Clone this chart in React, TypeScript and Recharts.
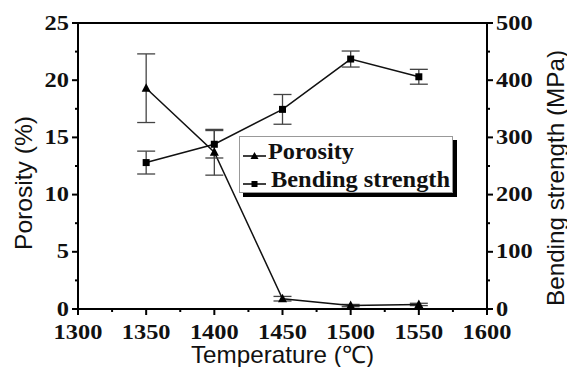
import React from 'react';
import { LineChart, Line, XAxis, YAxis, ErrorBar, ReferenceLine, Legend } from 'recharts';

const temperatures = [1350, 1400, 1450, 1500, 1550];
const porosity = [19.3, 13.7, 0.9, 0.3, 0.4];
const porosityErr = [3.0, 2.0, 0.2, 0.1, 0.1];
const bending = [256, 288, 349, 437, 406];
const bendingErr = [20, 24, 26, 14, 13];

const xTicks = [1300, 1325, 1350, 1375, 1400, 1425, 1450, 1475, 1500, 1525, 1550, 1575, 1600];
const leftTicks = [0, 2.5, 5, 7.5, 10, 12.5, 15, 17.5, 20, 22.5, 25];
const rightTicks = [0, 50, 100, 150, 200, 250, 300, 350, 400, 450, 500];

const data = temperatures.map((t, i) => ({
  t,
  porosity: porosity[i],
  porosityErr: porosityErr[i],
  bending: bending[i],
  bendingErr: bendingErr[i],
}));

const SERIF = '"Liberation Serif", "Times New Roman", Times, serif';
const SANS = 'Arial, "Liberation Sans", sans-serif';

// tick: draws its own tick line (major long, minor short) and label for majors
const makeTick = (side: 'left' | 'right' | 'bottom', step: number) => (props: any) => {
  const { x, y, payload } = props;
  const v = payload.value;
  const major = Math.abs(v / step - Math.round(v / step)) < 1e-6;
  const len = major ? 6 : 3;
  const label = String(v);
  const tl = label.length * 12.2;
  if (side === 'bottom') {
    return (
      <g>
        <line x1={x} y1={y} x2={x} y2={y + len} stroke="#000" strokeWidth={2} />
        {major && (
          <text x={x} y={y + 30} textAnchor="middle" fontFamily={SERIF} fontWeight="bold" fontSize={20}
            fill="#111" textLength={tl} lengthAdjust="spacingAndGlyphs">{label}</text>
        )}
      </g>
    );
  }
  const dir = side === 'left' ? -1 : 1;
  return (
    <g>
      <line x1={x} y1={y} x2={x + dir * len} y2={y} stroke="#000" strokeWidth={2} />
      {major && (
        <text x={side === 'left' ? x - 9 - tl : x + 9} y={y + 6.5} textAnchor="start" fontFamily={SERIF}
          fontWeight="bold" fontSize={20} fill="#111" textLength={tl} lengthAdjust="spacingAndGlyphs">{label}</text>
      )}
    </g>
  );
};

const TriangleDot = (props: any) => {
  const { cx, cy } = props;
  if (cx == null || cy == null) return null;
  return <polygon points={`${cx},${cy - 5} ${cx - 4.5},${cy + 3.5} ${cx + 4.5},${cy + 3.5}`} fill="#000" />;
};

const SquareDot = (props: any) => {
  const { cx, cy } = props;
  if (cx == null || cy == null) return null;
  return <rect x={cx - 3.5} y={cy - 3.5} width={7} height={7} fill="#000" />;
};

const LegendBox = () => (
  <div style={{
    width: 214, height: 57, boxSizing: 'border-box', background: '#fff', border: '1px solid #999',
    boxShadow: '4px 4px 0 #000',
  }}>
    <svg width={212} height={55} style={{ display: 'block' }}>
      <line x1={3} y1={19} x2={26} y2={19} stroke="#000" strokeWidth={1.5} />
      <polygon points="14.5,15 10.5,22 18.5,22" fill="#000" />
      <text x={28} y={22} fontFamily={SERIF} fontWeight="bold" fontSize={23} fill="#111"
        textLength={86} lengthAdjust="spacingAndGlyphs">Porosity</text>
      <line x1={3} y1={47} x2={26} y2={47} stroke="#000" strokeWidth={1.5} />
      <rect x={11.5} y={44} width={6} height={6} fill="#000" />
      <text x={31} y={50} fontFamily={SERIF} fontWeight="bold" fontSize={23} fill="#111"
        textLength={179} lengthAdjust="spacingAndGlyphs">Bending strength</text>
    </svg>
  </div>
);

export default function App() {
  return (
    <div style={{ position: 'absolute', left: 0, top: 0, width: 567, height: 367, background: '#fff' }}>
      <LineChart width={567} height={367} data={data} margin={{ top: 23, right: 0, bottom: 0, left: 0 }}>
        <XAxis
          dataKey="t" type="number" domain={[1300, 1600]} ticks={xTicks} interval={0}
          height={58} axisLine={{ stroke: '#000', strokeWidth: 2 }} tickLine={false}
          tickSize={0} tickMargin={0} tick={makeTick('bottom', 50)}
          label={{
            content: (p: any) => {
              const vb = p.viewBox;
              const cx = vb.x + vb.width / 2;
              return (
                <text x={cx} y={vb.y + 54} textAnchor="middle" fontFamily={SANS} fontSize={24} fill="#111"
                  textLength={183} lengthAdjust="spacingAndGlyphs">Temperature (℃)</text>
              );
            },
          }}
        />
        <YAxis
          yAxisId="left" domain={[0, 25]} ticks={leftTicks} interval={0} width={78}
          axisLine={{ stroke: '#000', strokeWidth: 2 }} tickLine={false} tickSize={0} tickMargin={0}
          tick={makeTick('left', 5)}
          label={{
            content: () => {
              const cy = 183;
              const cx = 23;
              return (
                <text x={cx} y={cy} transform={`rotate(-90 ${cx} ${cy})`} textAnchor="middle"
                  dominantBaseline="central" fontFamily={SANS} fontSize={24} fill="#111"
                  textLength={134} lengthAdjust="spacingAndGlyphs">Porosity (%)</text>
              );
            },
          }}
        />
        <YAxis
          yAxisId="right" orientation="right" domain={[0, 500]} ticks={rightTicks} interval={0} width={80}
          axisLine={{ stroke: '#000', strokeWidth: 2 }} tickLine={false} tickSize={0} tickMargin={0}
          tick={makeTick('right', 100)}
          label={{
            content: () => {
              const cy = 178;
              const cx = 555;
              return (
                <text x={cx} y={cy} transform={`rotate(-90 ${cx} ${cy})`} textAnchor="middle"
                  dominantBaseline="central" fontFamily={SANS} fontSize={24} fill="#111"
                  textLength={256} lengthAdjust="spacingAndGlyphs">Bending strength (MPa)</text>
              );
            },
          }}
        />
        <ReferenceLine yAxisId="left" y={25} stroke="#000" strokeWidth={2} />
        <Legend
          layout="vertical" align="center" verticalAlign="middle"
          wrapperStyle={{ position: 'absolute', left: 239, top: 136, width: 220, height: 62 }}
          content={() => <LegendBox />}
        />
        <Line
          yAxisId="left" dataKey="porosity" stroke="#111" strokeWidth={1.5} isAnimationActive={false}
          dot={(p: any) => <TriangleDot key={`p${p.index}`} {...p} />} activeDot={false}
        >
          <ErrorBar dataKey="porosityErr" width={9} stroke="#444" strokeWidth={1.3} direction="y" isAnimationActive={false} />
        </Line>
        <Line
          yAxisId="right" dataKey="bending" stroke="#111" strokeWidth={1.5} isAnimationActive={false}
          dot={(p: any) => <SquareDot key={`b${p.index}`} {...p} />} activeDot={false}
        >
          <ErrorBar dataKey="bendingErr" width={9} stroke="#444" strokeWidth={1.3} direction="y" isAnimationActive={false} />
        </Line>
      </LineChart>
    </div>
  );
}
